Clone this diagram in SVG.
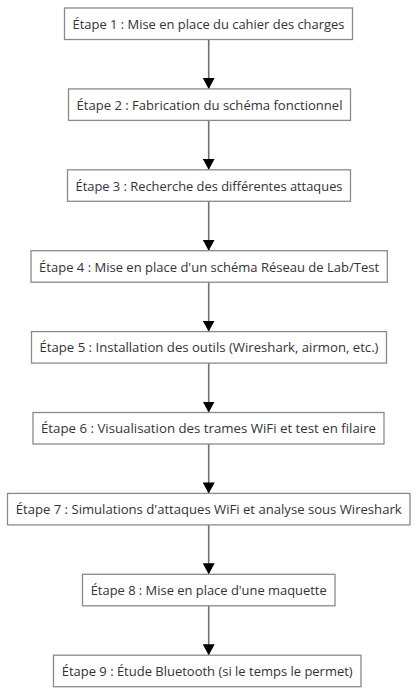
<svg xmlns="http://www.w3.org/2000/svg" width="418" height="695" viewBox="0 0 418 695">
<style>
.box{fill:#fff;stroke:#8a8a8a;stroke-width:1.3}
.lbl{font-family:"Open Sans","Noto Sans",sans-serif;font-size:13.2px;fill:#333;text-anchor:middle}
.edge{stroke:#707070;stroke-width:1.6;fill:none}
</style>
<defs>
<marker id="ah" markerWidth="12" markerHeight="12" refX="11" refY="6" orient="auto" markerUnits="userSpaceOnUse">
<path d="M0,0 L11,6 L0,12 Z" fill="#000"/>
</marker>
</defs>
<rect width="418" height="695" fill="#fff"/>
<g id="connectors">
<line class="edge" x1="208.7" y1="39.5" x2="208.7" y2="88.9" marker-end="url(#ah)"/>
<line class="edge" x1="208.7" y1="120.4" x2="208.7" y2="169.8" marker-end="url(#ah)"/>
<line class="edge" x1="208.7" y1="201.3" x2="208.7" y2="250.7" marker-end="url(#ah)"/>
<line class="edge" x1="208.7" y1="282.2" x2="208.7" y2="331.6" marker-end="url(#ah)"/>
<line class="edge" x1="208.7" y1="363.1" x2="208.7" y2="412.5" marker-end="url(#ah)"/>
<line class="edge" x1="208.7" y1="444" x2="208.7" y2="493.4" marker-end="url(#ah)"/>
<line class="edge" x1="208.7" y1="524.9" x2="208.7" y2="574.3" marker-end="url(#ah)"/>
<line class="edge" x1="208.7" y1="605.8" x2="208.7" y2="655.2" marker-end="url(#ah)"/>
</g>
<g id="n1"><rect class="box" x="64.5" y="8" width="288" height="31.5"/><text class="lbl" x="208.5" y="28.8" textLength="272" lengthAdjust="spacingAndGlyphs">Étape 1 : Mise en place du cahier des charges</text></g>
<g id="n2"><rect class="box" x="68.5" y="88.9" width="282" height="31.5"/><text class="lbl" x="209.5" y="109.7" textLength="266" lengthAdjust="spacingAndGlyphs">Étape 2 : Fabrication du schéma fonctionnel</text></g>
<g id="n3"><rect class="box" x="67.5" y="169.8" width="283" height="31.5"/><text class="lbl" x="209" y="190.6" textLength="267" lengthAdjust="spacingAndGlyphs">Étape 3 : Recherche des différentes attaques</text></g>
<g id="n4"><rect class="box" x="31" y="250.7" width="356.3" height="31.5"/><text class="lbl" x="209.1" y="271.5" textLength="340" lengthAdjust="spacingAndGlyphs">Étape 4 : Mise en place d'un schéma Réseau de Lab/Test</text></g>
<g id="n5"><rect class="box" x="31.5" y="331.6" width="355" height="31.5"/><text class="lbl" x="209" y="352.4" textLength="339" lengthAdjust="spacingAndGlyphs">Étape 5 : Installation des outils (Wireshark, airmon, etc.)</text></g>
<g id="n6"><rect class="box" x="33" y="412.5" width="351" height="31.5"/><text class="lbl" x="208.5" y="433.3" textLength="335" lengthAdjust="spacingAndGlyphs">Étape 6 : Visualisation des trames WiFi et test en filaire</text></g>
<g id="n7"><rect class="box" x="7.5" y="493.4" width="402.5" height="31.5"/><text class="lbl" x="208.7" y="514.2" textLength="386" lengthAdjust="spacingAndGlyphs">Étape 7 : Simulations d'attaques WiFi et analyse sous Wireshark</text></g>
<g id="n8"><rect class="box" x="82.5" y="574.3" width="252.5" height="31.5"/><text class="lbl" x="208.7" y="595.1" textLength="236" lengthAdjust="spacingAndGlyphs">Étape 8 : Mise en place d'une maquette</text></g>
<g id="n9"><rect class="box" x="53.5" y="655.2" width="307.5" height="31.5"/><text class="lbl" x="207.2" y="676" textLength="291" lengthAdjust="spacingAndGlyphs">Étape 9 : Étude Bluetooth (si le temps le permet)</text></g>
</svg>
